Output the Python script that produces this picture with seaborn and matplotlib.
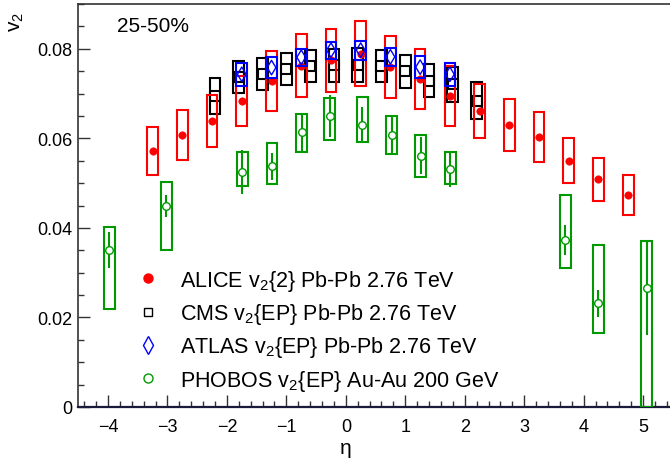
import numpy as np
import seaborn as sns
import matplotlib.pyplot as plt
from matplotlib.ticker import MultipleLocator

# ALICE v2{2} Pb-Pb 2.76 TeV
alice_eta = [-3.25, -2.75, -2.25, -1.75, -1.25, -0.75, -0.25, 0.25, 0.75,
             1.25, 1.75, 2.25, 2.75, 3.25, 3.75, 4.25, 4.75]
alice_v2 = [0.0572, 0.0608, 0.0639, 0.0684, 0.0728, 0.0762, 0.0774, 0.0789, 0.0760,
            0.0733, 0.0695, 0.0661, 0.0630, 0.0603, 0.0550, 0.0509, 0.0474]
alice_sys = [0.0054, 0.0056, 0.0058, 0.0056, 0.0066, 0.0070, 0.0070, 0.0072, 0.0069,
             0.0067, 0.0067, 0.0060, 0.0058, 0.0056, 0.0050, 0.0048, 0.0045]

# CMS v2{EP} Pb-Pb 2.76 TeV
cms_eta = [-2.2, -1.8, -1.4, -1.0, -0.6, -0.2, 0.2, 0.6, 1.0, 1.4, 1.8, 2.2]
cms_v2 = [0.0695, 0.0737, 0.0744, 0.0754, 0.0762, 0.0763, 0.0764, 0.0762,
          0.0750, 0.0729, 0.0721, 0.0684]
cms_sys = [0.0040, 0.0036, 0.0036, 0.0036, 0.0036, 0.0037, 0.0038, 0.0036,
           0.0037, 0.0037, 0.0039, 0.0041]

# ATLAS v2{EP} Pb-Pb 2.76 TeV
atlas_eta = [-1.75, -1.25, -0.75, -0.25, 0.25, 0.75, 1.25, 1.75]
atlas_v2 = [0.0743, 0.0758, 0.0781, 0.0797, 0.0797, 0.0782, 0.0759, 0.0743]
atlas_sys = [0.0026, 0.0024, 0.0019, 0.0019, 0.0021, 0.0020, 0.0024, 0.0026]

# PHOBOS v2{EP} Au-Au 200 GeV
phobos_eta = [-3.98, -3.02, -1.74, -1.24, -0.74, -0.27, 0.28, 0.77, 1.26, 1.76,
              3.69, 4.25, 5.06]
phobos_v2 = [0.0351, 0.0449, 0.0525, 0.0538, 0.0614, 0.0650, 0.0630, 0.0608,
             0.0561, 0.0532, 0.0373, 0.0232, 0.0266]
phobos_stat = [0.0040, 0.0025, 0.0050, 0.0030, 0.0042, 0.0047, 0.0041, 0.0042,
               0.0041, 0.0040, 0.0034, 0.0030, 0.0105]
phobos_lo = [0.0219, 0.0351, 0.0494, 0.0498, 0.0570, 0.0597, 0.0592, 0.0565,
             0.0514, 0.0498, 0.0310, 0.0165, 0.0000]
phobos_hi = [0.0402, 0.0503, 0.0570, 0.0590, 0.0655, 0.0690, 0.0693, 0.0650,
             0.0608, 0.0570, 0.0474, 0.0362, 0.0371]

RED, BLACK, BLUE, GREEN = "#ff0000", "#000000", "#0000ff", "#009900"
BOX_W = 0.18

sns.set_theme(style="ticks")
plt.rcParams["font.family"] = ["Liberation Sans", "DejaVu Sans"]
plt.rcParams["mathtext.fontset"] = "custom"
plt.rcParams["mathtext.rm"] = "Liberation Sans"
plt.rcParams["mathtext.it"] = "Liberation Sans:italic"
plt.rcParams["text.color"] = "black"

fig = plt.figure(figsize=(6.7, 4.6), dpi=100)
W, H = 670, 460
ax = fig.add_axes([78.3 / W, 52 / H, 594.5 / W, 403 / H])


def boxes(eta, lo, hi, color, z):
    lo = np.asarray(lo)
    hi = np.asarray(hi)
    ax.bar(eta, hi - lo, bottom=lo, width=BOX_W, fill=False,
           edgecolor=color, linewidth=1.5, zorder=z)


# CMS
boxes(cms_eta, np.subtract(cms_v2, cms_sys), np.add(cms_v2, cms_sys), BLACK, 2)
sns.scatterplot(x=cms_eta, y=cms_v2, marker="s", s=52, facecolor="none",
                edgecolor=BLACK, linewidth=1.5, ax=ax, zorder=2.1)

# PHOBOS
boxes(phobos_eta, phobos_lo, phobos_hi, GREEN, 3)
ax.errorbar(phobos_eta, phobos_v2, yerr=phobos_stat, fmt="none", ecolor=GREEN,
            elinewidth=1.5, capsize=0, zorder=3.1)
sns.scatterplot(x=phobos_eta, y=phobos_v2, marker="o", s=30, facecolor="white",
                edgecolor=GREEN, linewidth=1.0, ax=ax, zorder=3.2)

# ALICE
boxes(alice_eta, np.subtract(alice_v2, alice_sys), np.add(alice_v2, alice_sys), RED, 3)
sns.scatterplot(x=alice_eta, y=alice_v2, marker="o", s=28, color=RED,
                edgecolor=RED, linewidth=0.5, ax=ax, zorder=3.5)

# ATLAS
boxes(atlas_eta, np.subtract(atlas_v2, atlas_sys), np.add(atlas_v2, atlas_sys), BLUE, 4)
sns.scatterplot(x=atlas_eta, y=atlas_v2, marker="d", s=55, facecolor="none",
                edgecolor=BLUE, linewidth=1.0, ax=ax, zorder=4.5)

ax.set_xlim(-4.5, 5.5)
ax.set_ylim(0, 0.09)
ax.xaxis.set_minor_locator(MultipleLocator(0.2))
ax.yaxis.set_minor_locator(MultipleLocator(0.005))
ax.set_yticks([0, 0.02, 0.04, 0.06, 0.08])
ax.set_yticklabels(["0", "0.02", "0.04", "0.06", "0.08"])
ax.set_xticks(range(-4, 6))
ax.set_xticklabels(["\u22124", "\u22123", "\u22122", "\u22121", "0", "1", "2", "3", "4", "5"])
ax.tick_params(which="both", direction="in", colors="#333333", labelcolor="black",
               labelsize=13, width=1.0)
ax.tick_params(which="major", length=8.6)
ax.tick_params(which="minor", length=4.5)
ax.tick_params(axis="x", pad=8)
ax.tick_params(axis="y", pad=4)
ax.set_xlabel("")
ax.set_ylabel("")
for side in ["left", "top"]:
    ax.spines[side].set_color("#333333")
    ax.spines[side].set_linewidth(1.2)
ax.spines["bottom"].set_color("#1a1a3a")
ax.spines["bottom"].set_linewidth(1.6)
ax.spines["right"].set_visible(False)

ax.text(0, -0.113, "\u03b7", transform=ax.get_xaxis_transform(), ha="center",
        va="baseline", fontsize=15)
fig.text(17 / W, 1 - 22 / H, "v$_2$", rotation=90, ha="center", va="center",
         fontsize=15)
fig.text(117 / W, 1 - 32 / H, "25-50%", ha="left", va="baseline", fontsize=15)

handles = [
    plt.Line2D([], [], ls="none", marker="o", ms=6.5, color=RED),
    plt.Line2D([], [], ls="none", marker="s", ms=5.5, mfc="none", mec=BLACK, mew=1.0),
    plt.Line2D([], [], ls="none", marker="d", ms=9, mfc="none", mec=BLUE, mew=1.0),
    plt.Line2D([], [], ls="none", marker="o", ms=6.5, mfc="white", mec=GREEN, mew=1.0),
]
labels = ["ALICE v$_2${2} Pb-Pb 2.76 TeV", "CMS v$_2${EP} Pb-Pb 2.76 TeV",
          "ATLAS v$_2${EP} Pb-Pb 2.76 TeV", "PHOBOS v$_2${EP} Au-Au 200 GeV"]
ax.legend(handles, labels, loc="upper left", bbox_to_anchor=(137.6 / W, 1 - 269 / H),
          bbox_transform=fig.transFigure, frameon=False, fontsize=15.5,
          handlelength=1.0, handletextpad=0.95, labelspacing=0.38,
          borderpad=0, borderaxespad=0)

fig.savefig("out.png", dpi=100)
